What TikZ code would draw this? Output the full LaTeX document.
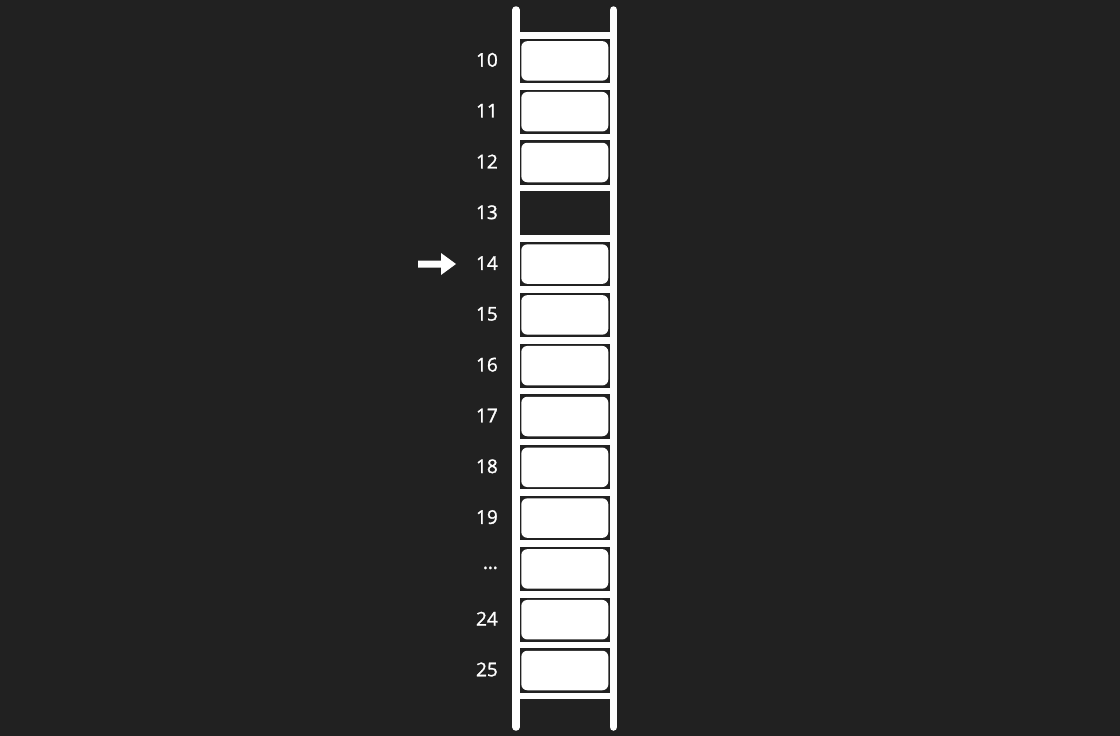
\documentclass[tikz,border=0pt]{standalone}
\usepackage{fontspec}
\setmainfont{Open Sans}
\newfontfamily\numfont[FakeBold=1.3]{Open Sans}
\definecolor{bg}{HTML}{212121}
\begin{document}
\begin{tikzpicture}[x=1pt,y=-1pt,
  rail/.style={draw=white,line width=7.5pt,line cap=round},
  rung/.style={draw=white,line width=6.5pt},
  slotbox/.style={fill=white,rounded corners=6pt,minimum width=87pt,minimum height=39.5pt,inner sep=0pt,draw=none},
  num/.style={text=white,font=\numfont\fontsize{19}{20}\selectfont,anchor=east,inner sep=0pt}]
\fill[bg] (0,0) rectangle (1120,736);
\useasboundingbox (0,0) rectangle (1120,736);
% rails
\draw[rail] (516,10) -- (516,727);
\draw[rail] (613.5,10) -- (613.5,727);
% rungs
\foreach \i in {0,...,13}{
  \draw[rung] (516,35.5+50.8*\i) -- (613.5,35.5+50.8*\i);
}
% labels
\foreach \lab [count=\i from 0] in {10,11,12,13,14,15,16,17,18,19,\dots,24,25}{
  \pgfmathsetmacro{\yc}{35.5+50.8*\i+24.4}
  \node[num] (l\i) at (498,\yc) {\lab};
}
% boxes
\foreach \i in {0,1,2,4,5,6,7,8,9,10,11,12}{
  \pgfmathsetmacro{\yc}{35.5+50.8*\i+25.4}
  \node[slotbox] (b\i) at (564.8,\yc) {};
}
% arrow
\fill[white] (418,260.5) -- (441,260.5) -- (441,253) -- (456,264) -- (441,275) -- (441,267.5) -- (418,267.5) -- cycle;
\end{tikzpicture}
\end{document}
